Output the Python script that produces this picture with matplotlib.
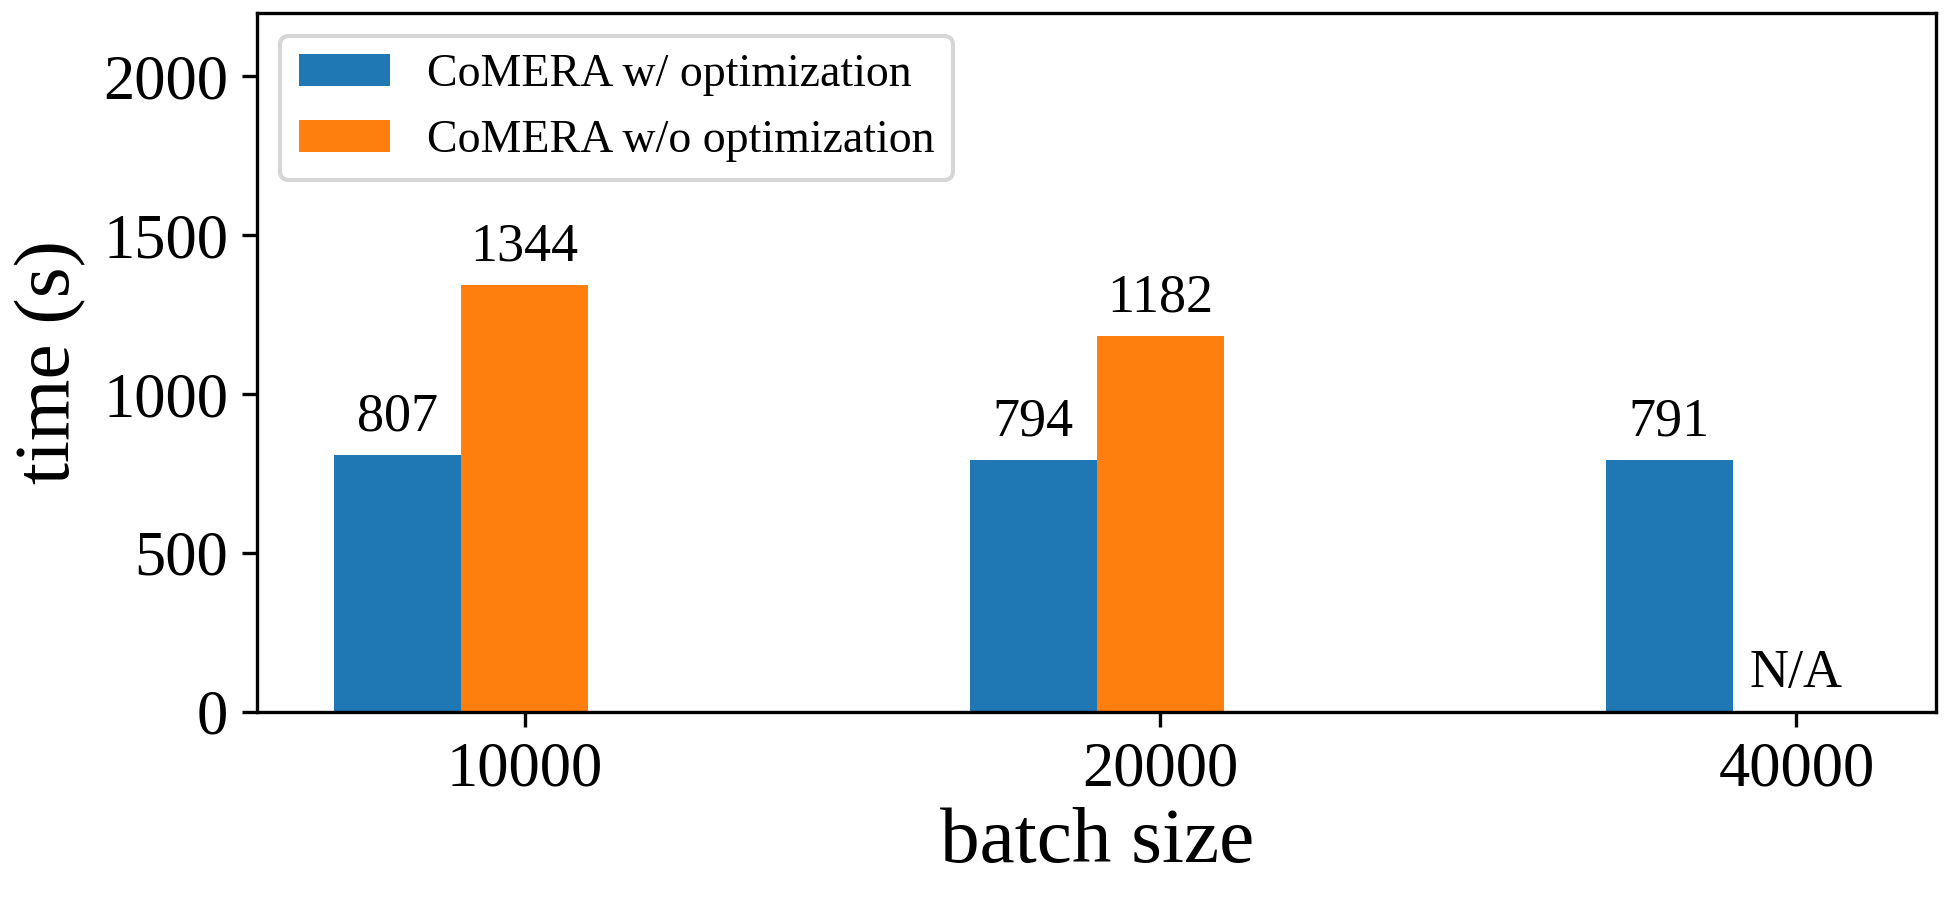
import matplotlib
matplotlib.use('Agg')
import matplotlib.pyplot as plt
import numpy as np

plt.rcParams['font.family'] = ['Liberation Serif', 'DejaVu Serif']

# data
batch_sizes = ['10000', '20000', '40000']
with_opt = [807, 794, 791]
without_opt = [1344, 1182, 0]
without_labels = ['1344', '1182', 'N/A']

x = np.arange(len(batch_sizes))
width = 0.2

fig, ax = plt.subplots(figsize=(6.5, 3), dpi=300)
b1 = ax.bar(x - width, with_opt, width, color='#1f77b4', label='CoMERA w/ optimization')
b2 = ax.bar(x, without_opt, width, color='#ff7f0e', label='CoMERA w/o optimization')

# value labels above bars
for rect, v in zip(b1, with_opt):
    ax.annotate(str(v), (rect.get_x() + rect.get_width() / 2, rect.get_height()),
                xytext=(0, 3), textcoords='offset points', ha='center', va='bottom', fontsize=13)
for rect, lab in zip(b2, without_labels):
    ax.annotate(lab, (rect.get_x() + rect.get_width() / 2, rect.get_height()),
                xytext=(0, 3), textcoords='offset points', ha='center', va='bottom', fontsize=13)

ax.set_xticks(x)
ax.set_xticklabels(batch_sizes, fontsize=15)
ax.tick_params(axis='y', labelsize=15)
ax.set_ylim(0, 2200)
ax.set_yticks([0, 500, 1000, 1500, 2000])
ax.set_xlabel('batch size', fontsize=19, labelpad=2)
ax.set_ylabel('time (s)', fontsize=19)
ax.legend(loc='upper left', fontsize=11)

plt.subplots_adjust(left=0.132, right=0.993, top=0.986, bottom=0.209)
plt.savefig('out.png')
